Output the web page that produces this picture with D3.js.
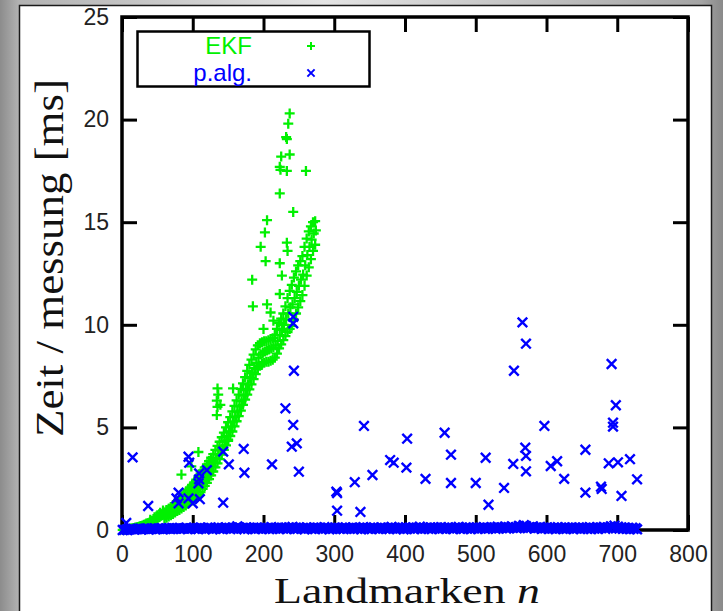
<!DOCTYPE html>
<html>
<head>
<meta charset="utf-8">
<script src="https://cdn.jsdelivr.net/npm/d3@7"></script>
<style>
  html, body { margin: 0; padding: 0; width: 723px; height: 611px; overflow: hidden; }
  svg { display: block; }
</style>
</head>
<body>
<svg id="chart" width="723" height="611"></svg>
<script>
// Laufzeit pro Messung über der Anzahl der Landmarken

const xTicks = [0, 100, 200, 300, 400, 500, 600, 700, 800];
const yTicks = [0, 5, 10, 15, 20, 25];
const seriesNames = ["EKF", "p.alg."];

// EKF, Anlauf bei wenigen Landmarken: [Landmarken, Zeit in ms]
const ekfStart = [
  [1,0.01],[3,0.02],[5,0.03],[7,0.04],[9,0.05],[11,0.06],[13,0.07],[15,0.09],[17,0.1],[19,0.12],
  [21,0.13],[23,0.15],[25,0.18],[27,0.2],[29,0.22],[31,0.25],[33,0.27],[35,0.31],[37,0.33],[39,0.37],
  [41,0.4],[43,0.44],[45,0.47],[47,0.52],[49,0.55],[51,0.6],[53,0.63],[55,0.69],[57,0.72],[59,0.78],
  [40,0.5],[46,0.62],[50,0.72],[54,0.84],[58,0.95],[63,0.97]
];

// EKF, Hauptband: Landmarken und je drei Messwerte (unten, Mitte, oben) in ms
const ekfBandN = [
  60,63,66,69,72,75,78,81,84,87,90,93,96,99,102,105,108,111,114,117,
  120,123,126,129,132,135,138,141,144,147,150,153,156,159,162,165,168,171,174,177,
  180,183,186,189,192,195,198,201,204,207,210,213,216,219,222,225,228,231,234,237,
  240,243,246,249,252,255,258,261,264,267,270,273
];
const ekfBandLow = [
  0.55,0.6,0.66,0.72,0.78,0.85,0.92,0.98,1.05,1.12,1.2,1.28,1.36,1.44,1.53,1.62,1.72,1.85,2.0,2.15,
  2.3,2.48,2.66,2.85,3.05,3.25,3.45,3.67,3.9,4.12,4.35,4.58,4.8,5.05,5.3,5.55,5.82,6.1,6.35,6.6,
  6.85,7.1,7.35,7.6,7.85,8.0,8.1,8.15,8.2,8.2,8.25,8.3,8.4,8.6,8.85,9.05,9.25,9.45,9.65,9.8,
  9.95,10.25,10.55,10.85,11.15,11.45,11.9,12.4,12.8,13.2,13.6,13.9
];
const ekfBandMid = [
  0.7,0.78,0.85,0.92,1.0,1.08,1.16,1.25,1.33,1.42,1.5,1.6,1.7,1.8,1.9,2.02,2.14,2.28,2.42,2.58,
  2.75,2.92,3.1,3.28,3.47,3.67,3.88,4.1,4.33,4.57,4.8,5.04,5.28,5.52,5.77,6.02,6.28,6.55,6.82,7.1,
  7.4,7.65,7.9,8.15,8.4,8.55,8.65,8.7,8.75,8.8,8.85,8.9,9.0,9.2,9.5,9.75,10.0,10.25,10.55,10.85,
  11.0,11.3,11.6,11.9,12.2,12.45,12.9,13.4,13.8,14.15,14.45,14.6
];
const ekfBandHigh = [
  0.85,0.95,1.03,1.12,1.22,1.3,1.4,1.5,1.6,1.72,1.83,1.95,2.07,2.2,2.32,2.45,2.6,2.75,2.9,3.05,
  3.2,3.36,3.52,3.7,3.9,4.1,4.3,4.52,4.75,5.0,5.25,5.5,5.78,6.05,6.32,6.6,6.88,7.15,7.45,7.75,
  8.05,8.3,8.55,8.8,9.0,9.1,9.15,9.2,9.2,9.25,9.3,9.35,9.5,9.8,10.1,10.3,10.55,10.9,11.3,11.65,
  11.95,12.3,12.6,12.9,13.1,13.35,13.8,14.2,14.55,14.8,15.0,15.05
];

// EKF, vereinzelte Ausreißer: [Landmarken, Zeit in ms]
const ekfOutliers = [
  [237,20.3],[235,19.8],[232,19.15],[233,19.05],[225,18.2],[237,18.3],[223,17.7],[224,17.55],[233,17.5],
  [260,17.5],[223,16.4],[242,15.5],[205,15.1],[202,14.5],[196,13.8],[203,13.1],[184,12.2],[223,13.0],
  [233,14.0],[234,13.6],[226,12.4],[223,11.5],[185,10.9],[205,11.0],[210,10.6],[214,10.2],[200,9.8],
  [134,5.6],[135,6.0],[134,6.3],[136,6.6],[135,6.9],[139,6.1],[108,3.8],[84,2.7],[150,4.4],[98,3.1],[157,6.9]
];

// p.alg.: Grundlast je Landmarkenanzahl, zwei Messreihen versetzt
const palgBaseN1 = d3.range(1, 727, 5);
const palgBaseMs1 = [
  0.00,0.02,0.03,0.05,0.04,0.06,0.05,0.07,0.06,0.08,
  0.07,0.09,0.06,0.08,0.10,0.07,0.09,0.08,0.11,0.08,
  0.10,0.09,0.12,0.08,0.11,0.10,0.09,0.13,0.10,0.12,
  0.09,0.11,0.10,0.12,0.09,0.13,0.10,0.11,0.12,0.09,
  0.11,0.10,0.14,0.09,0.12,0.11,0.10,0.13,0.15,0.11,
  0.12,0.10,0.13,0.09,0.11,0.12,0.10,0.14,0.11,0.09,
  0.12,0.10,0.11,0.13,0.09,0.12,0.10,0.11,0.14,0.10,
  0.11,0.13,0.09,0.12,0.10,0.11,0.15,0.10,0.12,0.11,
  0.13,0.10,0.12,0.11,0.16,0.12,0.10,0.13,0.11,0.12,
  0.14,0.11,0.13,0.10,0.12,0.15,0.11,0.13,0.12,0.10,
  0.13,0.11,0.14,0.12,0.10,0.13,0.16,0.12,0.15,0.14,
  0.18,0.13,0.20,0.16,0.19,0.14,0.17,0.12,0.15,0.11,
  0.13,0.10,0.12,0.14,0.11,0.13,0.10,0.12,0.11,0.13,
  0.12,0.10,0.14,0.11,0.13,0.12,0.15,0.13,0.18,0.21,
  0.16,0.13,0.12,0.10,0.11,0.09
];
const palgBaseN2 = d3.range(3, 729, 5);
const palgBaseMs2 = [
  0.01,0.00,0.04,0.02,0.06,0.03,0.05,0.02,0.07,0.04,
  0.05,0.03,0.08,0.04,0.06,0.09,0.05,0.07,0.04,0.08,
  0.06,0.04,0.09,0.05,0.07,0.03,0.08,0.06,0.05,0.09,
  0.04,0.07,0.18,0.08,0.03,0.06,0.09,0.04,0.07,0.05,
  0.08,0.04,0.06,0.10,0.05,0.07,0.04,0.09,0.06,0.05,
  0.07,0.03,0.08,0.06,0.04,0.09,0.05,0.07,0.03,0.06,
  0.08,0.05,0.04,0.07,0.09,0.05,0.06,0.03,0.08,0.06,
  0.04,0.07,0.05,0.09,0.06,0.04,0.08,0.05,0.07,0.03,
  0.06,0.09,0.04,0.07,0.05,0.08,0.06,0.04,0.10,0.05,
  0.07,0.05,0.08,0.04,0.09,0.06,0.05,0.07,0.04,0.08,
  0.06,0.09,0.05,0.07,0.11,0.06,0.08,0.10,0.07,0.09,
  0.12,0.08,0.10,0.24,0.09,0.11,0.07,0.10,0.06,0.08,
  0.05,0.07,0.04,0.08,0.06,0.05,0.09,0.04,0.07,0.05,
  0.08,0.06,0.04,0.07,0.05,0.09,0.06,0.10,0.12,0.08,
  0.07,0.05,0.06,0.04,0.05,0.03
];

// p.alg.: Ausreißer [Landmarken, Zeit in ms]
const palgPeaks = [
  [6,0.34],[15,3.54],[37,1.17],[94,3.57],[95,3.28],[109,2.76],[109,2.47],[120,2.92],[108,2.27],
  [80,1.82],[77,1.54],[80,1.30],[94,1.54],[100,1.30],[110,1.50],[143,3.82],[151,3.20],[143,1.33],
  [172,3.95],[173,2.79],[212,3.20],[231,5.93],[242,5.12],[240,4.06],[247,4.22],[250,2.84],
  [243,7.76],[242,10.39],[242,10.07],
  [303,1.87],[304,1.80],[304,0.94],[329,2.33],[337,0.88],[342,5.07],[354,2.68],[379,3.41],[384,3.28],
  [403,4.45],[402,3.04],[429,2.49],[456,4.74],[465,3.67],[465,2.29],[500,2.29],[518,1.23],[514,3.52],
  [540,2.05],[553,3.22],[554,7.76],[566,10.12],[571,9.08],[570,4.01],[571,3.61],[571,2.86],
  [597,5.07],[606,3.12],[615,3.35],[625,2.49],[655,3.91],[655,1.82],[677,2.11],[678,2.00],
  [692,8.09],[698,6.08],[694,5.23],[694,5.04],[688,3.25],[701,3.30],[706,1.66],[718,3.45],[728,2.47]
];

const W = 723, H = 611;
const svg = d3.select("#chart");

// Hintergrund und weiße Fläche
const defs = svg.append("defs");
const bg = defs.append("linearGradient").attr("id", "bgGrad").attr("x1", 0).attr("x2", 1).attr("y1", 0).attr("y2", 0);
[["0%", "#8c8c8c"], ["2.6%", "#b2b2b2"], ["45%", "#e4e4e4"], ["97%", "#a5a5a5"], ["100%", "#8a8a8a"]]
  .forEach(([o, c]) => bg.append("stop").attr("offset", o).attr("stop-color", c));
svg.append("rect").attr("width", W).attr("height", H).attr("fill", "url(#bgGrad)");
svg.append("rect").attr("x", 19.5).attr("y", 5.5).attr("width", 692).attr("height", H)
  .attr("fill", "#fff").attr("stroke", "#1a1a1a").attr("stroke-width", 1.5);

const x = d3.scaleLinear().domain([0, 800]).range([122, 688]);
const y = d3.scaleLinear().domain([0, 25]).range([530, 17]);

const tickFont = "'Liberation Sans', Arial, sans-serif";

// Achsen mit nach innen zeigenden Strichen
const axisBottom = d3.axisBottom(x).tickValues(xTicks).tickSizeInner(-15).tickSizeOuter(0).tickPadding(16);
const axisLeft = d3.axisLeft(y).tickValues(yTicks).tickSizeInner(-15).tickSizeOuter(0).tickPadding(13);
const axisTop = d3.axisTop(x).tickValues(xTicks).tickSizeInner(-15).tickSizeOuter(0).tickFormat("");
const axisRight = d3.axisRight(y).tickValues(yTicks).tickSizeInner(-15).tickSizeOuter(0).tickFormat("");

function styleAxis(g) {
  g.select(".domain").remove();
  g.selectAll(".tick line").attr("stroke", "#000").attr("stroke-width", 3);
  g.selectAll(".tick text").attr("fill", "#222").style("font-family", tickFont).style("font-size", "23px");
}

svg.append("g").attr("transform", `translate(0,${y(0)})`).call(axisBottom).call(styleAxis);
svg.append("g").attr("transform", `translate(${x(0)},0)`).call(axisLeft).call(styleAxis);
svg.append("g").attr("transform", `translate(0,${y(25)})`).call(axisTop).call(styleAxis);
svg.append("g").attr("transform", `translate(${x(800)},0)`).call(axisRight).call(styleAxis);

// Rahmen
svg.append("rect")
  .attr("x", x(0)).attr("y", y(25))
  .attr("width", x(800) - x(0)).attr("height", y(0) - y(25))
  .attr("fill", "none").attr("stroke", "#000").attr("stroke-width", 3.5);

const green = "#00f000", blue = "#0000ff";
const plusPath = (s) => `M${-s},0H${s}M0,${-s}V${s}`;
const crossPath = (s) => `M${-s},${-s}L${s},${s}M${-s},${s}L${s},${-s}`;

// EKF-Punkte
const ekfPoints = ekfStart
  .concat(ekfBandN.map((n, i) => [n, ekfBandLow[i]]))
  .concat(ekfBandN.map((n, i) => [n + 1, ekfBandMid[i]]))
  .concat(ekfBandN.map((n, i) => [n, ekfBandHigh[i]]))
  .concat(ekfOutliers);
svg.append("g").selectAll("path").data(ekfPoints).join("path")
  .attr("transform", d => `translate(${x(d[0])},${y(d[1])})`)
  .attr("d", plusPath(5))
  .attr("stroke", green).attr("stroke-width", 2.3).attr("fill", "none");

// p.alg.-Punkte
const palgPoints = palgBaseN1.map((n, i) => [n, palgBaseMs1[i]])
  .concat(palgBaseN2.map((n, i) => [n, palgBaseMs2[i]]))
  .concat(palgPeaks);
svg.append("g").selectAll("path").data(palgPoints).join("path")
  .attr("transform", d => `translate(${x(d[0])},${y(d[1])})`)
  .attr("d", crossPath(4.8))
  .attr("stroke", blue).attr("stroke-width", 2.4).attr("fill", "none");

// Legende
const legend = svg.append("g");
legend.append("rect").attr("x", 137.5).attr("y", 31.5).attr("width", 232).attr("height", 55)
  .attr("fill", "#fff").attr("stroke", "#000").attr("stroke-width", 2.5);
const legendRows = [
  { name: seriesNames[0], color: green, path: plusPath(4), y: 46 },
  { name: seriesNames[1], color: blue, path: crossPath(3.6), y: 73 }
];
legendRows.forEach(r => {
  legend.append("text").attr("x", 252).attr("y", r.y + 8).attr("text-anchor", "end")
    .attr("fill", r.color).style("font-family", tickFont).style("font-size", "24px").text(r.name);
  legend.append("path").attr("transform", `translate(311,${r.y})`).attr("d", r.path)
    .attr("stroke", r.color).attr("stroke-width", 2).attr("fill", "none");
});

// Achsenbeschriftungen
const serif = "'Liberation Serif', 'DejaVu Serif', serif";
const xLabel = svg.append("text").attr("x", 407).attr("y", 603).attr("text-anchor", "middle")
  .attr("textLength", 266).attr("lengthAdjust", "spacingAndGlyphs")
  .style("font-family", serif).style("font-size", "36px").attr("fill", "#111");
xLabel.append("tspan").text("Landmarken ");
xLabel.append("tspan").style("font-style", "italic").text("n");

svg.append("text").attr("transform", "translate(63,258) rotate(-90)").attr("text-anchor", "middle")
  .attr("textLength", 358).attr("lengthAdjust", "spacingAndGlyphs")
  .style("font-family", serif).style("font-size", "40px").attr("fill", "#111")
  .text("Zeit / messung [ms]");
</script>
</body>
</html>
